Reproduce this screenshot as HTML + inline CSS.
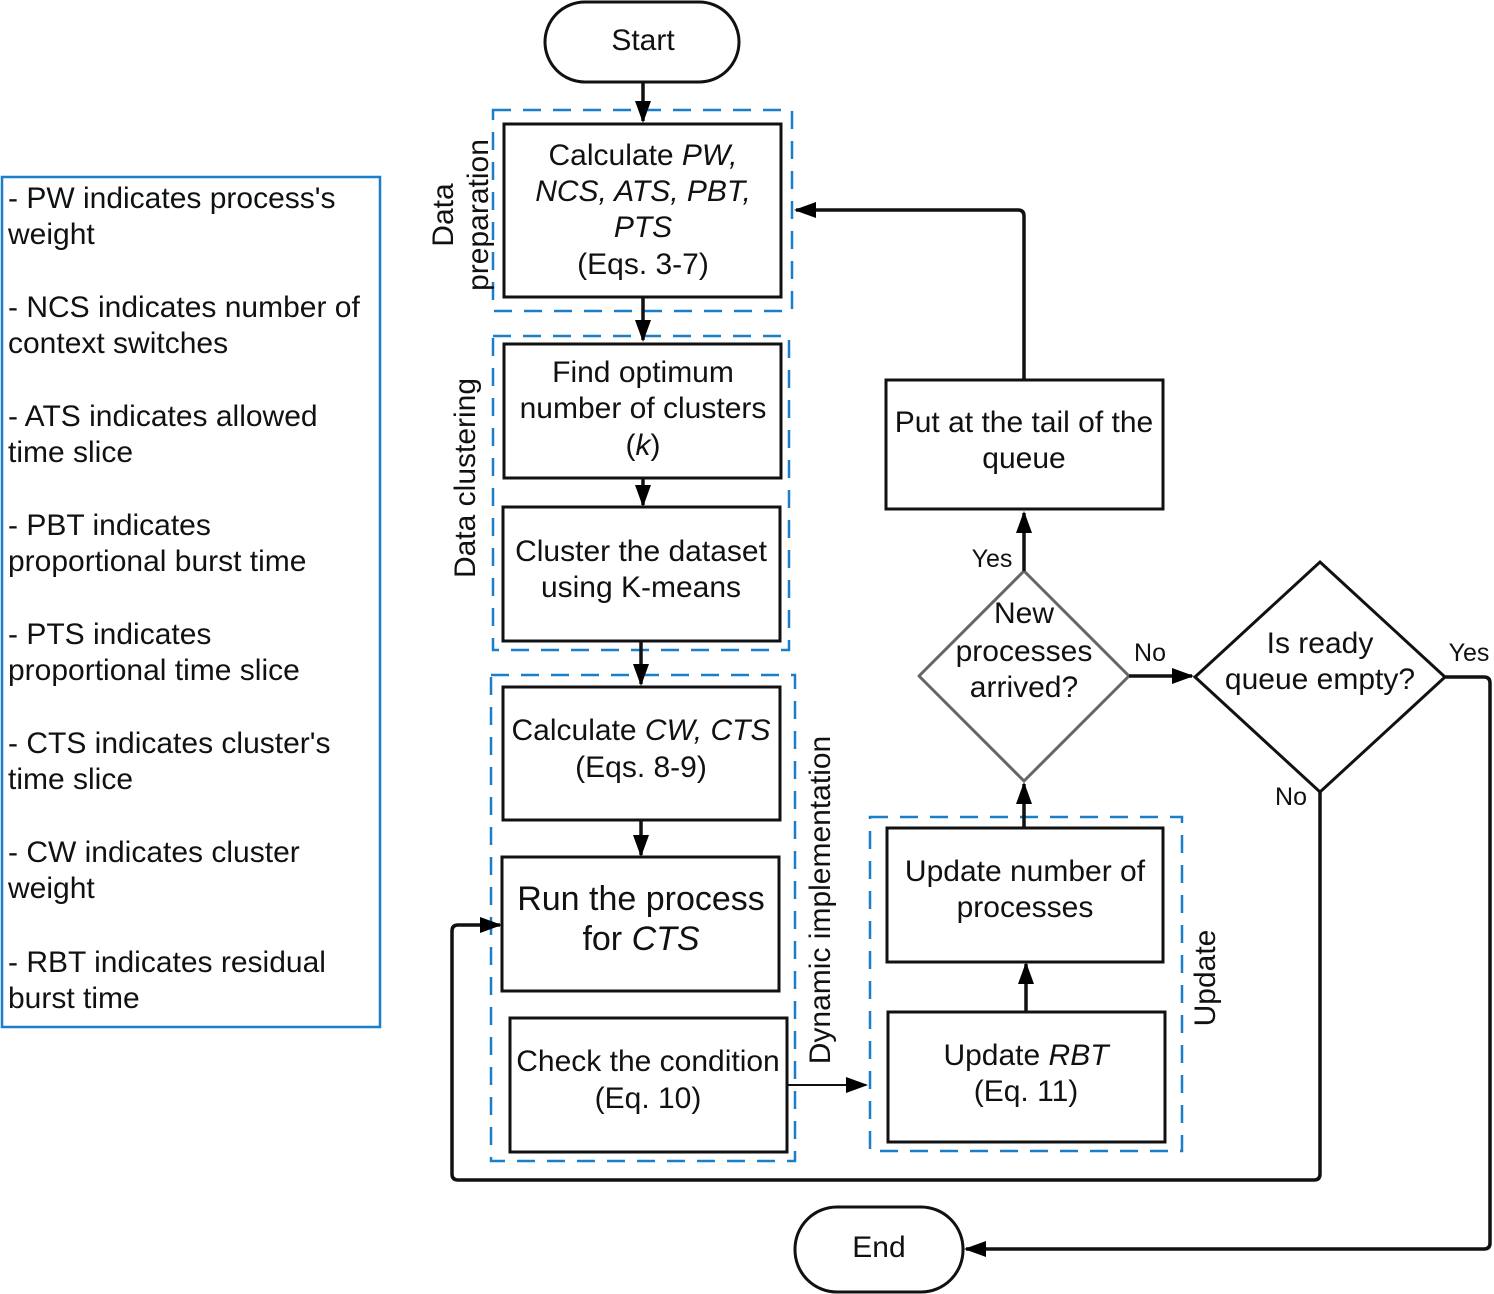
<!DOCTYPE html>
<html><head><meta charset="utf-8"><style>body{margin:0;background:#fff}svg{display:block}text{font-family:"Liberation Sans",Arial,sans-serif;fill:#111}</style></head><body>
<svg width="1494" height="1294" viewBox="0 0 1494 1294" xmlns="http://www.w3.org/2000/svg">
<defs>
<marker id="b" markerWidth="22" markerHeight="22" refX="20" refY="11" orient="auto" markerUnits="userSpaceOnUse" viewBox="0 0 22 22"><path d="M0,3 L22,11 L0,19 z" fill="#000"/></marker></defs>
<g fill="none" stroke="#1a7fc8" stroke-width="2.5" stroke-dasharray="18,12">
<rect x="493" y="110" width="299" height="201"/>
<rect x="493" y="336" width="296" height="314"/>
<rect x="491" y="675" width="304" height="486"/>
<rect x="870" y="817" width="312" height="334"/>
</g>
<rect x="2" y="177" width="378" height="850" fill="none" stroke="#1a7fc8" stroke-width="2.5"/>
<g fill="#fff" stroke="#111" stroke-width="3">
<rect x="545" y="2" width="194" height="80" rx="40"/>
<rect x="795" y="1207" width="168" height="85" rx="42"/>
<rect x="504" y="124" width="277" height="173"/>
<rect x="504" y="344" width="277" height="134"/>
<rect x="503" y="507" width="277" height="134"/>
<rect x="503" y="687" width="277" height="133"/>
<rect x="502" y="857" width="277" height="134"/>
<rect x="510" y="1018" width="277" height="134"/>
<rect x="887" y="828" width="276" height="134"/>
<rect x="888" y="1012" width="277" height="130"/>
<rect x="886" y="380" width="277" height="129"/>
<path d="M1320,562 L1445,677 L1320,792 L1195,677 Z"/>
</g>
<path d="M1024,571 L1129,676 L1024,781 L919,676 Z" fill="#fff" stroke="#666" stroke-width="3" stroke-linejoin="round"/>
<g fill="none" stroke="#111" stroke-width="3.5" stroke-linejoin="round">
<path d="M643,82 V121" marker-end="url(#b)"/>
<path d="M643,297 V340" marker-end="url(#b)"/>
<path d="M643,478 V505" marker-end="url(#b)"/>
<path d="M641,641 V684" marker-end="url(#b)"/>
<path d="M641,820 V855" marker-end="url(#b)"/>
<path d="M787,1085 H866" stroke-width="2" marker-end="url(#b)"/>
<path d="M1026,1012 V964" marker-end="url(#b)"/>
<path d="M1024,828 V784" marker-end="url(#b)"/>
<path d="M1024,571 V513" marker-end="url(#b)"/>
<path d="M1024,380 V216 Q1024,210 1018,210 H796" marker-end="url(#b)"/>
<path d="M1129,676 H1192" marker-end="url(#b)"/>
<path d="M1445,677 H1484 Q1490,677 1490,683 V1243 Q1490,1249 1484,1249 H966" marker-end="url(#b)"/>
<path d="M1320,792 V1174 Q1320,1180 1314,1180 H458 Q452,1180 452,1174 V931 Q452,925 458,925 H500" marker-end="url(#b)"/>
</g>
<g font-size="30" text-anchor="middle">
<text x="643" y="50">Start</text>
<text x="879" y="1257">End</text>
<text x="643" y="165">Calculate <tspan font-style="italic">PW,</tspan></text>
<text x="643" y="201" font-style="italic">NCS, ATS, PBT,</text>
<text x="643" y="237" font-style="italic">PTS</text>
<text x="643" y="274">(Eqs. 3-7)</text>
<text x="643" y="382">Find optimum</text>
<text x="643" y="418">number of clusters</text>
<text x="643" y="455">(<tspan font-style="italic">k</tspan>)</text>
<text x="641" y="561">Cluster the dataset</text>
<text x="641" y="597">using K-means</text>
<text x="641" y="740">Calculate <tspan font-style="italic">CW, CTS</tspan></text>
<text x="641" y="777">(Eqs. 8-9)</text>
<text x="641" y="910" font-size="34">Run the process</text>
<text x="641" y="950" font-size="34">for <tspan font-style="italic">CTS</tspan></text>
<text x="648" y="1071">Check the condition</text>
<text x="648" y="1108">(Eq. 10)</text>
<text x="1025" y="881">Update number of</text>
<text x="1025" y="917">processes</text>
<text x="1026" y="1065">Update <tspan font-style="italic">RBT</tspan></text>
<text x="1026" y="1101">(Eq. 11)</text>
<text x="1024" y="432">Put at the tail of the</text>
<text x="1024" y="468">queue</text>
<text x="1024" y="623">New</text>
<text x="1024" y="661">processes</text>
<text x="1024" y="697">arrived?</text>
<text x="1320" y="653">Is ready</text>
<text x="1320" y="689">queue empty?</text>
</g>
<g font-size="25" text-anchor="middle">
<text x="992" y="567">Yes</text>
<text x="1150" y="661">No</text>
<text x="1469" y="661">Yes</text>
<text x="1291" y="805">No</text>
</g>
<g font-size="30" text-anchor="middle">
<text transform="translate(453,215) rotate(-90)">Data</text>
<text transform="translate(488,215) rotate(-90)">preparation</text>
<text transform="translate(475,478) rotate(-90)">Data clustering</text>
<text transform="translate(830,900) rotate(-90)">Dynamic implementation</text>
<text transform="translate(1215,978) rotate(-90)">Update</text>
</g>
<g font-size="30">
<text x="8" y="208">- PW indicates process's</text><text x="8" y="244">weight</text>
<text x="8" y="317">- NCS indicates number of</text><text x="8" y="353">context switches</text>
<text x="8" y="426">- ATS indicates allowed</text><text x="8" y="462">time slice</text>
<text x="8" y="535">- PBT indicates</text><text x="8" y="571">proportional burst time</text>
<text x="8" y="644">- PTS indicates</text><text x="8" y="680">proportional time slice</text>
<text x="8" y="753">- CTS indicates cluster's</text><text x="8" y="789">time slice</text>
<text x="8" y="862">- CW indicates cluster</text><text x="8" y="898">weight</text>
<text x="8" y="972">- RBT indicates residual</text><text x="8" y="1008">burst time</text>
</g>
</svg>
</body></html>
